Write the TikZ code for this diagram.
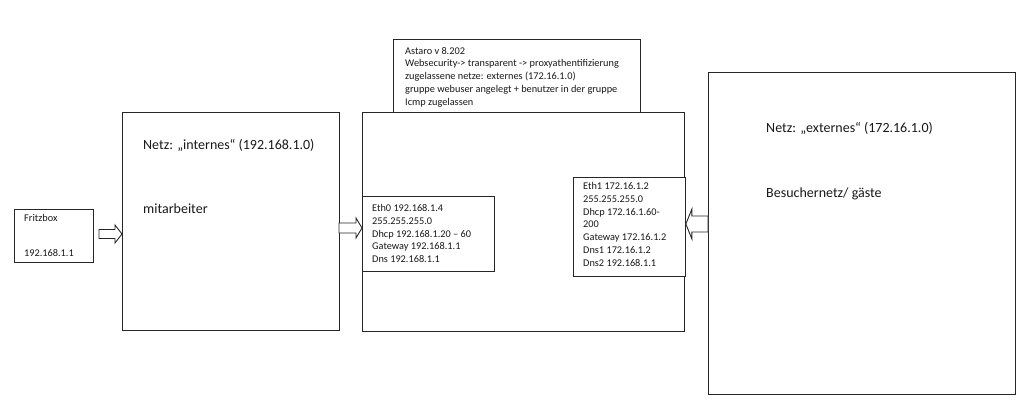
\documentclass[tikz,border=0pt]{standalone}
\usepackage{fontspec}
\setmainfont{Carlito}
\usetikzlibrary{calc}
\begin{document}
\begin{tikzpicture}[x=1pt,y=-1pt,
  box/.style={draw=black!85, line width=0.9pt, fill=white, inner sep=0pt, anchor=north west},
  small/.style={font=\fontsize{10.3}{12.7}\selectfont, inner sep=0pt, align=left, anchor=north west, text=black!90},
  big/.style={font=\fontsize{14}{17}\selectfont, inner sep=0pt, anchor=base west, text=black!90},
  barrow/.style n args={3}{draw=black!85, line width=0.9pt, fill=white, line join=miter,
    to path={let \p1=(\tikztostart), \p2=(\tikztotarget), \n1={sign(\x2-\x1)*#1} in
      (\x1,\y1+#2) -- (\x2-\n1,\y1+#2) -- (\x2-\n1,\y1+#3) -- (\x2,\y1) -- (\x2-\n1,\y1-#3) -- (\x2-\n1,\y1-#2) -- (\x1,\y1-#2) -- cycle}}
]
\fill[white] (0,0) rectangle (1024,406);
\useasboundingbox (0,0) rectangle (1024,406);

% boxes
\node[box, minimum width=79, minimum height=53] (fritz) at (14,209) {};
\node[box, minimum width=217, minimum height=218] (mit) at (122,112) {};
\node[box, minimum width=322, minimum height=219] (mid) at (362,112) {};
\node[box, minimum width=247, minimum height=73] (astaro) at (393,39) {};
\node[box, minimum width=132, minimum height=75] (eth0) at (362,196) {};
\node[box, minimum width=112, minimum height=99] (eth1) at (573,177) {};
\node[box, minimum width=307, minimum height=322] (ext) at (708,72) {};

% block arrows
\coordinate (a1) at (99,234);
\coordinate (a2) at (339,228);
\coordinate (a3) at (708,224);
\draw[barrow={7}{4.5}{9}] (a1) to (a1 -| mit.west);
\draw[barrow={6}{5}{10}] (a2) to (a2 -| eth0.west);
\draw[barrow={6}{8}{15}] (a3) to (a3 -| eth1.east);

% texts
\node[small] (astarotxt) at (405,47) {Astaro v 8.202\\Websecurity-> transparent -> proxyathentifizierung\\zugelassene netze: externes (172.16.1.0)\\gruppe webuser angelegt + benutzer in der gruppe\\Icmp zugelassen};
\node[small] (fritztxt) at (24,214.5) {Fritzbox\\[22pt]192.168.1.1};
\node[small] (eth0txt) at (372,204.5) {Eth0 192.168.1.4\\255.255.255.0\\Dhcp 192.168.1.20 – 60\\Gateway 192.168.1.1\\Dns 192.168.1.1};
\node[small] (eth1txt) at (583,182.5) {Eth1 172.16.1.2\\255.255.255.0\\Dhcp 172.16.1.60-\\200\\Gateway 172.16.1.2\\Dns1 172.16.1.2\\Dns2 192.168.1.1};
\node[big] (inttitle) at (143,149.5) {Netz: „internes“ (192.168.1.0)};
\node[big] (mittxt) at (143,213.5) {mitarbeiter};
\node[big] (exttitle) at (766,133) {Netz: „externes“ (172.16.1.0)};
\node[big] (bestxt) at (766,197) {Besuchernetz/ gäste};
\end{tikzpicture}
\end{document}
